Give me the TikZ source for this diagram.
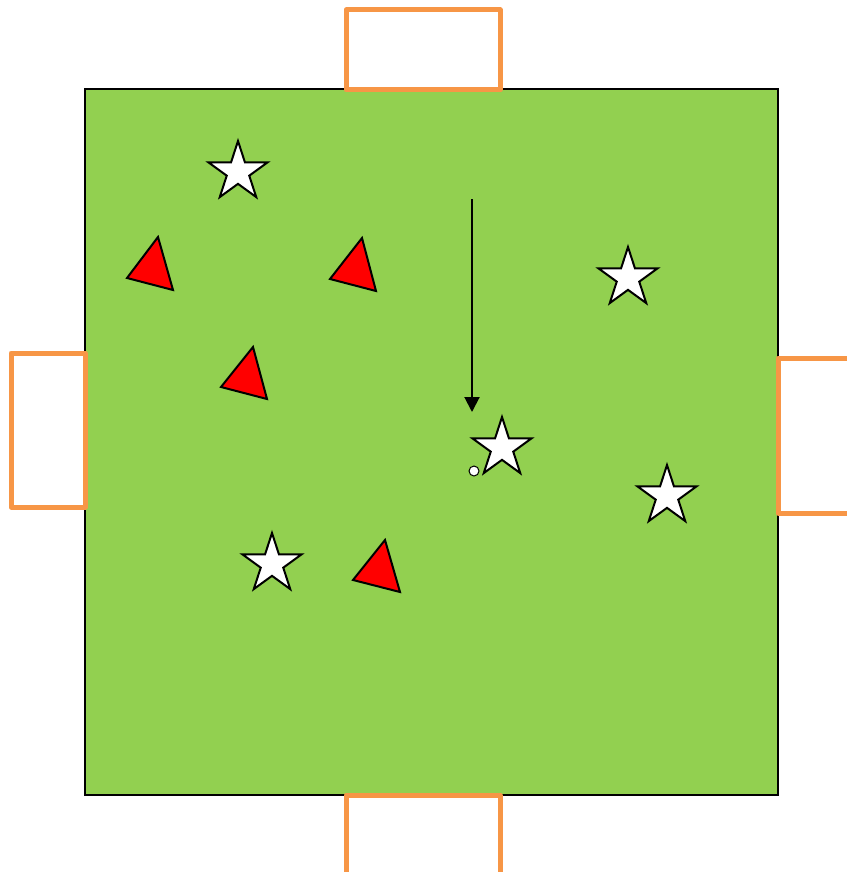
\documentclass[tikz,border=0pt]{standalone}
\usetikzlibrary{shapes.geometric,arrows.meta}
\definecolor{fieldgreen}{HTML}{92D050}
\definecolor{goalorange}{HTML}{F79646}
\definecolor{conered}{HTML}{FF0000}
\begin{document}
\begin{tikzpicture}[x=1pt,y=-1pt,
  fieldbox/.style={fill=fieldgreen,draw=black,line width=1.3pt},
  goalbox/.style={draw=goalorange,line width=5pt,line join=round,fill=white},
  player/.style={star,star points=5,star point ratio=2.618,minimum size=62pt,inner sep=0pt,draw=black,fill=white,line width=2pt},
  cone/.style={draw=black,fill=conered,line width=2pt,line join=miter},
  ballnode/.style={circle,minimum size=10pt,inner sep=0pt,draw=black,fill=white,line width=1pt},
  runarrow/.style={draw=black,line width=2pt,-{Triangle[length=15pt,width=15pt]}}]
\useasboundingbox (0,0) rectangle (846,872);
% field
\path[fieldbox] (85,89) rectangle (778,795);
% goals
\path[goalbox] (346,10) rectangle (500,90);
\path[goalbox] (346,795) rectangle (500,880);
\path[goalbox] (11,353) rectangle (85,507);
\path[goalbox] (778,358) rectangle (860,513);
% players
\node[player] (p1) at (238,172) {};
\node[player] (p2) at (628,278) {};
\node[player] (p3) at (502,448) {};
\node[player] (p4) at (667,496) {};
\node[player] (p5) at (272,564) {};
% cones
\path[cone] (158,237) -- (127,278) -- (173,290) -- cycle;
\path[cone] (362,238) -- (330,279) -- (376,291) -- cycle;
\path[cone] (253,347) -- (221,387) -- (267,399) -- cycle;
\path[cone] (385,540) -- (353,580) -- (400,592) -- cycle;
% run
\coordinate (runstart) at (472,199);
\coordinate (runend) at (472,412);
\draw[runarrow] (runstart) -- (runend);
% ball
\node[ballnode] (ball) at (474,471) {};
\end{tikzpicture}
\end{document}
